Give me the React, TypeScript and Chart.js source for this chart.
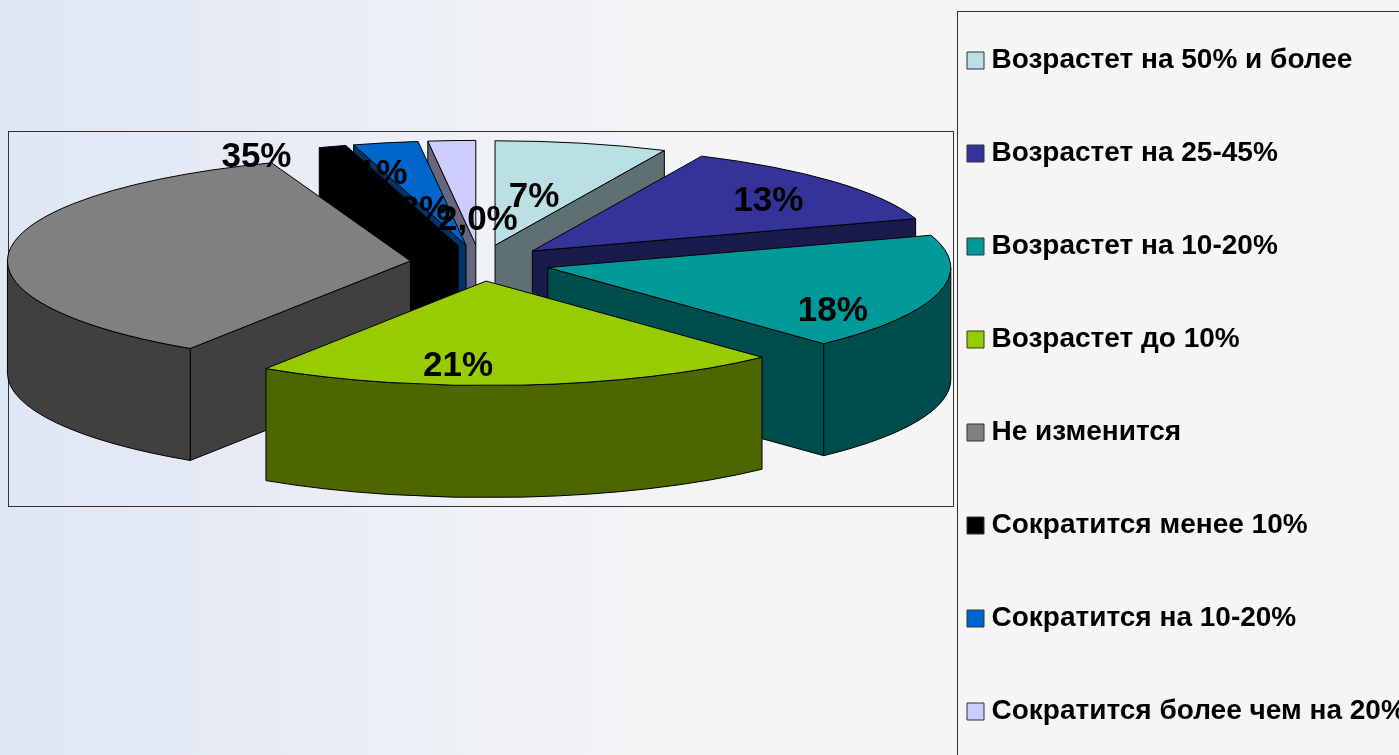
import React, { useEffect, useRef } from "react";
import { Chart, registerables } from "chart.js";

Chart.register(...registerables);

const categories = [
  "Возрастет на 50% и более",
  "Возрастет на 25-45%",
  "Возрастет на 10-20%",
  "Возрастет до 10%",
  "Не изменится",
  "Сократится менее 10%",
  "Сократится на 10-20%",
  "Сократится более чем на 20%",
];
const values = [6.9, 13.1, 18, 21.2, 35.2, 1.1, 2.6, 1.9];
const valueLabels = ["7%", "13%", "18%", "21%", "35%", "1%", "3%", "2,0%"];
const topColors = ["#BBE0E3", "#333399", "#009999", "#99CC00", "#808080", "#000000", "#0066CC", "#CCCCFF"];
const wallColors = ["#5E7072", "#1A1A4D", "#004D4D", "#4D6600", "#404040", "#000000", "#003366", "#66667F"];
const labelShiftX = [39, 236, 285, -28, -154, -76, -41, 2];
const labelShiftY = [-48, -50, 44, 85, -104, -71, -35, -25];

const W = 1399;
const H = 755;
const RADIUS = 403;
const TILT = 105 / 405;
const DEPTH = 112;
const EXPLODE = 70;
const LEGEND_WIDTH = 439;
const LEGEND_GAP = 65;
const FONT = "'Liberation Sans', Arial, sans-serif";

function geometry(arc: any) {
  const p = arc.getProps(["x", "y", "startAngle", "endAngle", "outerRadius"], true);
  const half = (p.startAngle + p.endAngle) / 2;
  return {
    cx: p.x,
    cy: p.y,
    a0: p.startAngle,
    a1: p.endAngle,
    r: p.outerRadius,
    half,
    tipX: p.x + Math.cos(half) * EXPLODE,
    tipY: p.y + Math.sin(half) * EXPLODE * TILT,
  };
}

const pie3d = {
  id: "pie3d",
  beforeDatasetDraw(chart: any) {
    const ctx = chart.ctx as CanvasRenderingContext2D;
    const arcs = chart.getDatasetMeta(0).data as any[];
    const order = arcs
      .map((arc, i) => ({ arc, i, g: geometry(arc) }))
      .sort((a, b) => Math.sin(a.g.half) - Math.sin(b.g.half));
    ctx.save();
    ctx.lineWidth = 1;
    ctx.strokeStyle = "#000000";
    ctx.lineJoin = "round";
    for (const { arc, i, g } of order) {
      const { tipX, tipY, r, a0, a1 } = g;
      const rY = r * TILT;
      ctx.fillStyle = wallColors[i];
      const radialWall = (a: number) => {
        const ex = tipX + r * Math.cos(a);
        const ey = tipY + rY * Math.sin(a);
        ctx.beginPath();
        ctx.moveTo(tipX, tipY);
        ctx.lineTo(ex, ey);
        ctx.lineTo(ex, ey + DEPTH);
        ctx.lineTo(tipX, tipY + DEPTH);
        ctx.closePath();
        ctx.fill();
        ctx.stroke();
      };
      if (Math.cos(a0) < 0) radialWall(a0);
      if (Math.cos(a1) > 0) radialWall(a1);
      const from = Math.max(a0, 0);
      const to = Math.min(a1, Math.PI);
      if (to > from) {
        ctx.beginPath();
        ctx.ellipse(tipX, tipY, r, rY, 0, from, to);
        ctx.ellipse(tipX, tipY + DEPTH, r, rY, 0, to, from, true);
        ctx.closePath();
        ctx.fill();
        ctx.stroke();
      }
      // top face: the library's own arc, moved out and flattened
      ctx.save();
      ctx.translate(tipX, tipY);
      ctx.scale(1, TILT);
      ctx.translate(-g.cx, -g.cy);
      arc.draw(ctx);
      ctx.restore();
      ctx.beginPath();
      ctx.moveTo(tipX, tipY);
      ctx.ellipse(tipX, tipY, r, rY, 0, a0, a1);
      ctx.closePath();
      ctx.stroke();
    }
    ctx.restore();
    return false;
  },
  afterDatasetsDraw(chart: any) {
    const ctx = chart.ctx as CanvasRenderingContext2D;
    const arcs = chart.getDatasetMeta(0).data as any[];
    ctx.save();
    ctx.font = `bold 35px ${FONT}`;
    ctx.fillStyle = "#000000";
    ctx.textAlign = "center";
    ctx.textBaseline = "middle";
    arcs.forEach((arc, i) => {
      const g = geometry(arc);
      ctx.fillText(valueLabels[i], g.tipX + labelShiftX[i], g.tipY + labelShiftY[i]);
    });
    ctx.restore();
  },
};

const frames = {
  id: "frames",
  afterLayout(chart: any) {
    const lg = chart.legend;
    lg.left = 973.5 - LEGEND_GAP;
    lg.right = W + 200;
    lg.top = 60.5 - 14 - LEGEND_GAP;
    lg.bottom = H + 200;
  },
  beforeDraw(chart: any) {
    const ctx = chart.ctx as CanvasRenderingContext2D;
    const grad = ctx.createLinearGradient(0, 0, W, 0);
    grad.addColorStop(0, "#DFE7F4");
    grad.addColorStop(0.18, "#E6EBF5");
    grad.addColorStop(0.36, "#F0F2F6");
    grad.addColorStop(0.55, "#F5F5F5");
    grad.addColorStop(1, "#F5F5F5");
    ctx.save();
    ctx.fillStyle = grad;
    ctx.fillRect(0, 0, W, H);
    ctx.strokeStyle = "#333333";
    ctx.lineWidth = 1;
    ctx.strokeRect(8.5, 131.5, 945, 375);
    ctx.strokeRect(957.5, 11.5, W, H);
    ctx.restore();
  },
};

export default function App() {
  const ref = useRef<HTMLCanvasElement>(null);
  useEffect(() => {
    if (!ref.current) return;
    const base = (Chart as any).overrides.doughnut.plugins.legend.labels.generateLabels;
    const chart = new Chart(ref.current, {
      type: "pie",
      data: {
        labels: categories,
        datasets: [
          {
            data: values,
            backgroundColor: topColors,
            borderColor: "#333333",
            borderWidth: 0,
          } as any,
        ],
      },
      options: {
        responsive: false,
        animation: false,
        radius: RADIUS,
        layout: { padding: { bottom: H - 526 } },
        plugins: {
          tooltip: { enabled: false },
          legend: {
            position: "right",
            align: "start",
            maxWidth: LEGEND_WIDTH,
            labels: {
              usePointStyle: true,
              pointStyle: "rect",
              boxWidth: 4,
              boxHeight: 17,
              padding: LEGEND_GAP,
              color: "#000000",
              font: { family: FONT, size: 28, weight: "bold" },
              generateLabels: (c: any) =>
                base(c).map((l: any) => ({ ...l, lineWidth: 1, strokeStyle: "#333333" })),
            },
          },
        },
      } as any,
      plugins: [frames, pie3d],
    });
    return () => chart.destroy();
  }, []);
  return (
    <div style={{ position: "fixed", left: 0, top: 0, width: W, height: H, overflow: "hidden" }}>
      <canvas ref={ref} width={W} height={H} style={{ display: "block" }} />
    </div>
  );
}
